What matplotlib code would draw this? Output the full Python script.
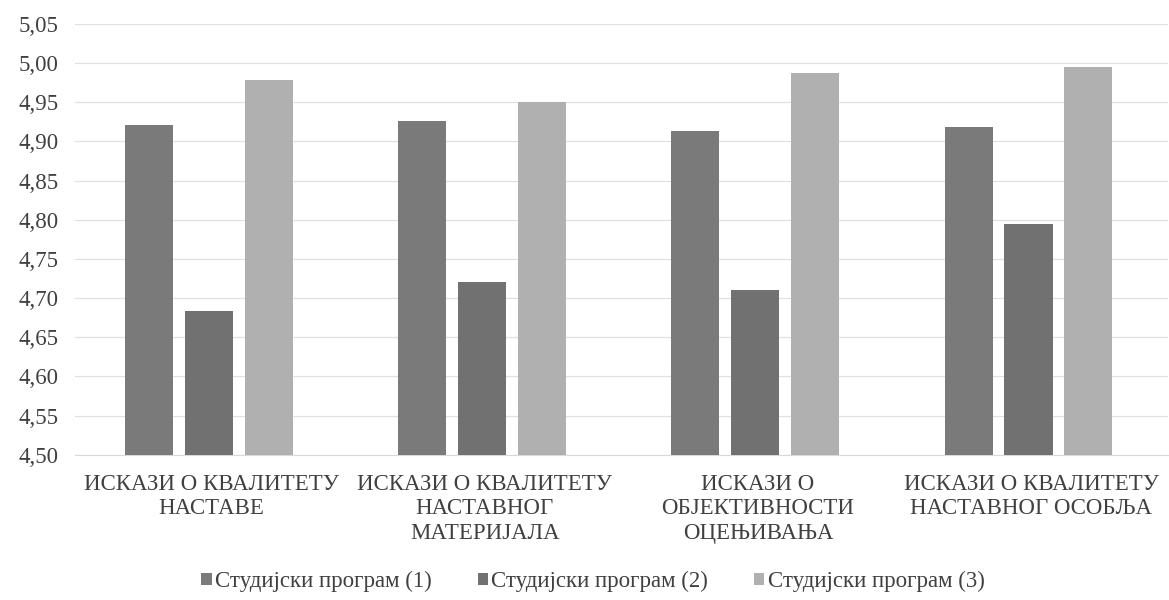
import numpy as np
import matplotlib
matplotlib.use("Agg")
import matplotlib.pyplot as plt

plt.rcParams['font.family'] = ['Liberation Serif', 'DejaVu Serif']

categories = [
    "ИСКАЗИ О КВАЛИТЕТУ\nНАСТАВЕ",
    "ИСКАЗИ О КВАЛИТЕТУ\nНАСТАВНОГ\nМАТЕРИЈАЛА",
    "ИСКАЗИ О\nОБЈЕКТИВНОСТИ\nОЦЕЊИВАЊА",
    "ИСКАЗИ О КВАЛИТЕТУ\nНАСТАВНОГ ОСОБЉА",
]
series_names = ["Студијски програм (1)", "Студијски програм (2)", "Студијски програм (3)"]
prog1 = [4.921, 4.926, 4.913, 4.919]
prog2 = [4.683, 4.720, 4.710, 4.795]
prog3 = [4.979, 4.951, 4.988, 4.995]
yticks = [4.50, 4.55, 4.60, 4.65, 4.70, 4.75, 4.80, 4.85, 4.90, 4.95, 5.00, 5.05]

colors = ["#7a7a7a", "#717171", "#b0b0b0"]
text_color = "#404040"

fig = plt.figure(figsize=(11.69, 6), dpi=100)
ax = fig.add_axes([0.064, 0.242, 0.935, 0.718])

x = np.arange(len(categories))
w = 0.176
step = 0.219
for i, (vals, name) in enumerate(zip([prog1, prog2, prog3], series_names)):
    ax.bar(x + (i - 1) * step - 0.01, [v - 4.5 for v in vals], w, bottom=4.5,
           color=colors[i], label=name, zorder=3)

ax.set_xlim(-0.5, len(categories) - 0.5)
ax.set_ylim(4.5, 5.05)
ax.set_yticks(yticks)
ax.set_yticklabels([f"{t:.2f}".replace(".", ",") for t in yticks], fontsize=16.5)
ax.set_xticks(x)
ax.set_xticklabels(categories, linespacing=1.2, fontsize=16.5)
ax.tick_params(axis='both', length=0, colors=text_color)
ax.tick_params(axis='x', pad=14)
ax.tick_params(axis='y', pad=12)
ax.grid(axis='y', color="#e0e0e0", linewidth=0.9, zorder=0)
for s in ["top", "right", "left"]:
    ax.spines[s].set_visible(False)
ax.spines["bottom"].set_color("#d9d9d9")

ax.legend(loc="center", bbox_to_anchor=(0.474, -0.294), ncol=3, frameon=False,
          fontsize=16.5, handlelength=0.45, handleheight=0.45, handletextpad=0.15,
          columnspacing=2.0, labelcolor=text_color)

fig.savefig("out.png", dpi=100)
